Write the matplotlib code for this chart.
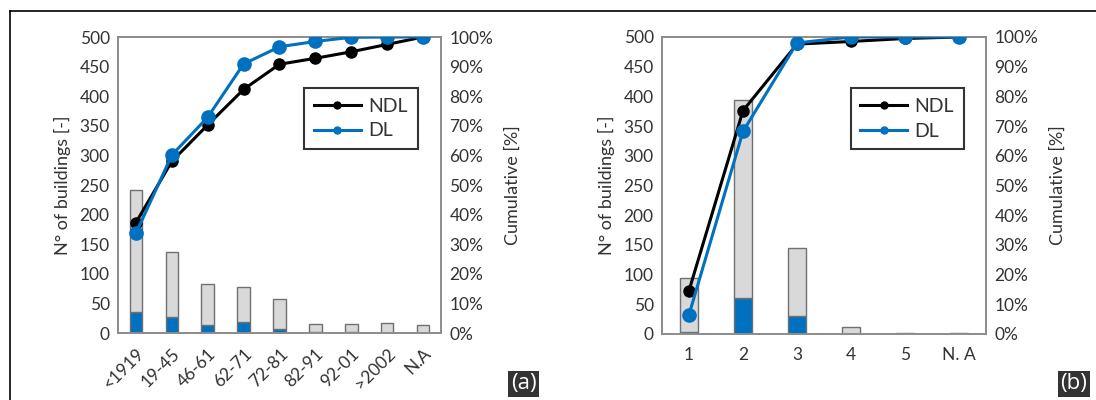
import matplotlib
matplotlib.use("Agg")
import matplotlib.pyplot as plt
from matplotlib.lines import Line2D
from matplotlib.ticker import PercentFormatter

plt.rcParams['font.family'] = ['Lato', 'DejaVu Sans']

# panel (a): construction period
cats_a = ["<1919", "19-45", "46-61", "62-71", "72-81", "82-91", "92-01", ">2002", "N.A"]
total_a = [242, 136, 83, 77, 57, 15, 15, 17, 14]
dl_a = [35, 27, 13, 18, 7, 2, 1, 0, 0]
cum_ndl_a = [37.3, 58.0, 70.3, 82.3, 90.8, 92.8, 95.0, 97.5, 100]
cum_dl_a = [33.7, 60.1, 72.9, 90.9, 96.7, 98.5, 99.9, 100, 100]

# panel (b): number of storeys
cats_b = ["1", "2", "3", "4", "5", "N. A"]
total_b = [95, 394, 144, 11, 1, 1]
dl_b = [4, 60, 30, 0, 0, 0]
cum_ndl_b = [14.6, 75.2, 97.6, 98.5, 99.5, 100]
cum_dl_b = [6.5, 68.2, 98.0, 100, 100, 100]

blue = "#0070c0"
grey = "#d9d9d9"
edge = "#707070"
txt = "#333333"


def panel(ax, cats, total, dl, cum_ndl, cum_dl, width, rot, leg_anchor):
    x = list(range(len(cats)))
    rest = [t - d for t, d in zip(total, dl)]
    ax.bar(x, dl, width, color=blue, edgecolor=edge, linewidth=1.0, zorder=2)
    ax.bar(x, rest, width, bottom=dl, color=grey, edgecolor=edge, linewidth=1.0, zorder=2)
    ax.set_xlim(-0.5, len(cats) - 0.5)
    ax.set_ylim(0, 500)
    ax.set_yticks(range(0, 501, 50))
    ax.set_xticks(x)
    if rot:
        ax.set_xticklabels(cats, rotation=45, ha='right', rotation_mode='anchor', fontsize=13)
    else:
        ax.set_xticklabels(cats, fontsize=13)
    ax.set_ylabel("N° of buildings [-]", fontsize=13, color=txt, labelpad=6)
    ax.tick_params(length=0, labelsize=12.5, colors=txt, pad=6)
    ax.tick_params(axis='x', pad=9)

    ax2 = ax.twinx()
    ax2.plot(x, cum_ndl, color="black", lw=2.2, marker='o', ms=8, zorder=3)
    ax2.plot(x, cum_dl, color=blue, lw=2.2, marker='o', ms=9.5, zorder=4)
    ax2.set_ylim(0, 100)
    ax2.set_yticks(range(0, 101, 10))
    ax2.yaxis.set_major_formatter(PercentFormatter(decimals=0))
    ax2.tick_params(length=0, labelsize=12.5, colors=txt, pad=6)
    ax2.set_ylabel("Cumulative [%]", fontsize=13, color=txt, labelpad=8)

    for a in (ax, ax2):
        for s in a.spines.values():
            s.set_color("#8c8c8c")
            s.set_linewidth(1.2)

    handles = [Line2D([], [], color="black", lw=2.2, marker='o', ms=5),
               Line2D([], [], color=blue, lw=2.2, marker='o', ms=5)]
    leg = ax2.legend(handles, ["NDL", "DL"], loc='upper right', bbox_to_anchor=leg_anchor,
                     fontsize=14, frameon=True, fancybox=False, handlelength=2.4,
                     borderpad=0.5, labelspacing=0.4, handletextpad=0.4, borderaxespad=0)
    leg.get_frame().set_edgecolor("black")
    leg.get_frame().set_linewidth(1.5)
    for t in leg.get_texts():
        t.set_color(txt)
    return ax2


fig = plt.figure(figsize=(10.96, 4.0), dpi=100)
ax_a = fig.add_axes([118 / 1096, 1 - 333 / 400, 323 / 1096, 296 / 400])
ax_b = fig.add_axes([662 / 1096, 1 - 334 / 400, 324 / 1096, 297 / 400])

panel(ax_a, cats_a, total_a, dl_a, cum_ndl_a, cum_dl_a, 0.35, True, (0.928, 0.828))
panel(ax_b, cats_b, total_b, dl_b, cum_ndl_b, cum_dl_b, 0.34, False, (0.932, 0.828))

# outer frame lines (top and left)
fig.add_artist(Line2D([9.5 / 1096, 1.0], [1 - 11 / 400, 1 - 11 / 400], color="black", lw=1.2))
fig.add_artist(Line2D([9.5 / 1096, 9.5 / 1096], [0, 1 - 11 / 400], color="black", lw=1.2))

for lab, xc in (("(a)", 523.5), ("(b)", 1074)):
    fig.text(xc / 1096, 1 - 384 / 400, lab, ha='center', va='center', fontsize=16,
             color="white", family=['Open Sans', 'DejaVu Sans'],
             bbox=dict(boxstyle='square,pad=0.1', fc="#333333", ec='none'))

fig.savefig("out.png", dpi=100)
